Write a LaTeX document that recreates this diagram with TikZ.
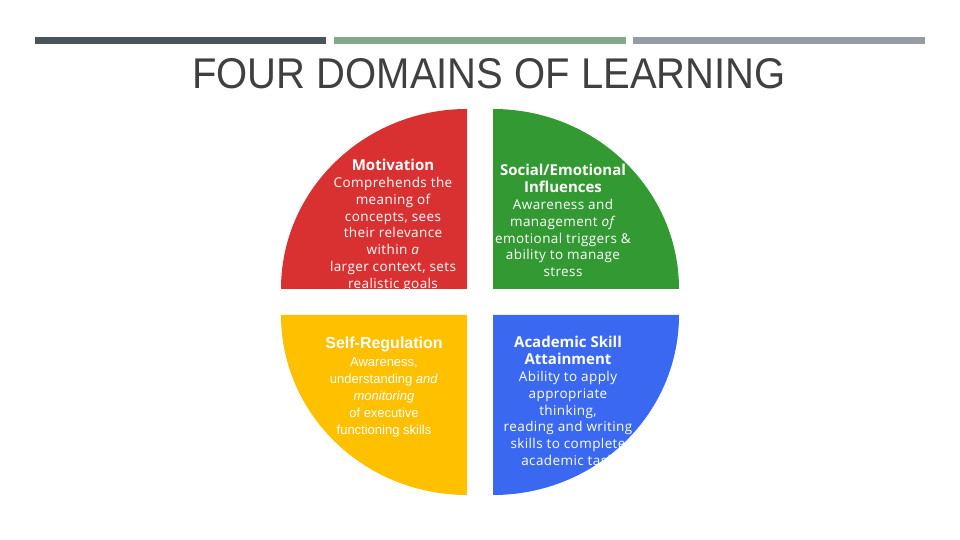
\documentclass[tikz,border=0pt]{standalone}
\usepackage{fontspec}
\usepackage{xcolor}
\usetikzlibrary{positioning}
\setmainfont{Liberation Sans}
\newfontfamily\headfont[FakeStretch=0.93]{Liberation Sans}
\newfontfamily\quadfont{Open Sans}
\newfontfamily\quadbodyfont[LetterSpace=3]{Open Sans}
\newfontfamily\arialfont{Liberation Sans}

\definecolor{barslate}{HTML}{48555A}
\definecolor{bargreen}{HTML}{80AA88}
\definecolor{bargray}{HTML}{959CA5}
\definecolor{titlegray}{HTML}{404040}
\definecolor{motired}{HTML}{D93131}
\definecolor{socgreen}{HTML}{339933}
\definecolor{selfyellow}{HTML}{FFC000}
\definecolor{acadblue}{HTML}{3A68F0}

\begin{document}
\begin{tikzpicture}[
    x=1pt, y=1pt,
    node distance=6pt,
    domtitle/.style={text=white, inner sep=0pt, align=center, font=\quadfont\bfseries\fontsize{15}{17}\selectfont},
    domtext/.style={text=white, inner sep=0pt, align=center, font=\quadbodyfont\fontsize{13.5}{16.8}\selectfont},
    armtitle/.style={text=white, inner sep=0pt, align=center, font=\arialfont\bfseries\fontsize{16}{18}\selectfont},
    armtext/.style={text=white, inner sep=0pt, align=center, font=\arialfont\fontsize{13}{16.8}\selectfont}
]
    \useasboundingbox[fill=white] (0,0) rectangle (960,540);

    % header bars
    \fill[barslate] (35,496) rectangle (326,503);
    \fill[bargreen] (334,496) rectangle (626,503);
    \fill[bargray] (633,496) rectangle (925,503);
    \node[anchor=base, text=titlegray, inner sep=0pt, font=\headfont\fontsize{43}{50}\selectfont] (heading) at (489,451) {FOUR DOMAINS OF LEARNING};

    % quadrants
    \fill[motired] (467,251) -- (281,251) arc[start angle=180, end angle=90, x radius=186, y radius=180] -- cycle;
    \fill[socgreen] (493,251) -- (493,431) arc[start angle=90, end angle=0, x radius=186, y radius=180] -- cycle;
    \fill[selfyellow] (467,225) -- (281,225) arc[start angle=180, end angle=270, x radius=186, y radius=180] -- cycle;
    \fill[acadblue] (493,225) -- (679,225) arc[start angle=0, end angle=-90, x radius=186, y radius=180] -- cycle;

    % texts
    \node[domtitle] (moti) at (393,375) {Motivation};
    \node[domtext, below=of moti] (motibody) {Comprehends the\\meaning of\\concepts, sees\\their relevance\\within \textit{a}\\larger context, sets\\realistic goals};

    \node[domtitle] (soci) at (563,361.5) {Social/Emotional\\Influences};
    \node[domtext, below=of soci] (socibody) {Awareness and\\management \textit{of}\\emotional triggers \&\\ability to manage\\stress};

    \node[armtitle] (selfreg) at (384,196) {Self-Regulation};
    \node[armtext, below=of selfreg] (selfbody) {Awareness,\\understanding \textit{and}\\\textit{monitoring}\\of executive\\functioning skills};

    \node[domtitle] (acad) at (568,189.5) {Academic Skill\\Attainment};
    \node[domtext, below=of acad] (acadbody) {Ability to apply\\appropriate\\thinking,\\reading and writing\\skills to complete\\academic task};
\end{tikzpicture}
\end{document}
